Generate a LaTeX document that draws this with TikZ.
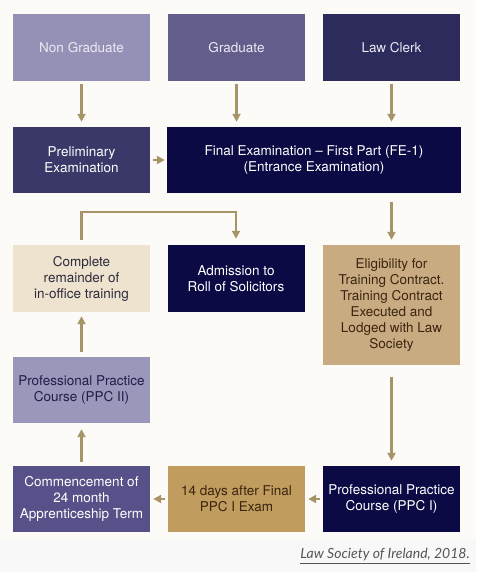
\documentclass[tikz,border=0pt]{standalone}
\usepackage{fontspec}
\setmainfont{TeX Gyre Heros}
\newfontfamily\capfont{Lato}
\usetikzlibrary{arrows.meta}
\definecolor{bgtop}{HTML}{FCFBF7}
\definecolor{bgbot}{HTML}{F8F8F8}
\definecolor{cNon}{HTML}{9590B5}
\definecolor{cGrad}{HTML}{635D8B}
\definecolor{cClerk}{HTML}{2D2A5C}
\definecolor{cPrelim}{HTML}{3A3868}
\definecolor{cNavy}{HTML}{0C0A45}
\definecolor{cCream}{HTML}{EDE3CF}
\definecolor{cTan}{HTML}{C9AB82}
\definecolor{cPPCII}{HTML}{9B97BB}
\definecolor{cComm}{HTML}{565188}
\definecolor{cGold}{HTML}{C09C5E}
\definecolor{cArrow}{HTML}{A89469}
\definecolor{tLight}{HTML}{ECEAF3}
\definecolor{tDark}{HTML}{2D2B3C}
\definecolor{tBrown}{HTML}{3B2410}
\definecolor{tNavy}{HTML}{1F1D4A}
\definecolor{tCap}{HTML}{555555}
\begin{document}
\begin{tikzpicture}[x=1pt,y=-1pt,
  box/.style={inner sep=0pt, align=center, font=\fontsize{13.5}{16}\selectfont,
    minimum width=137pt, minimum height=66pt, text=white},
  conn/.style={draw=cArrow, line width=2.4pt,
    -{Triangle[length=8pt,width=8pt]}}]
\useasboundingbox (0,0) rectangle (476,572);
\fill[bgtop] (0,0) rectangle (476,540);
\fill[bgbot] (0,540) rectangle (476,572);

\node[box, fill=cNon, text=tLight, minimum height=67pt] (non) at (81.5,47.5) {Non Graduate};
\node[box, fill=cGrad, text=tLight, minimum height=67pt] (grad) at (236.5,47.5) {Graduate};
\node[box, fill=cClerk, text=tLight, minimum height=67pt] (clerk) at (391.5,47.5) {Law Clerk};

\node[box, fill=cPrelim] (prelim) at (81.5,160) {Preliminary\\Examination};
\node[box, fill=cNavy, minimum width=294pt] (fe1) at (314,160) {Final Examination -- First Part (FE-1)\\(Entrance Examination)};

\node[box, fill=cCream, text=tDark, minimum height=67pt] (complete) at (81.5,278.5) {Complete\\remainder of\\in-office training};
\node[box, fill=cNavy, minimum height=67pt] (admission) at (236,278.5) {Admission to\\Roll of Solicitors};
\node[box, fill=cTan, text=tBrown, minimum height=120pt] (elig) at (391.5,305) {Eligibility for\\Training Contract.\\Training Contract\\Executed and\\Lodged with Law\\Society};

\node[box, fill=cPPCII, text=tNavy] (ppc2) at (81.5,390) {Professional Practice\\Course (PPC II)};

\node[box, fill=cComm] (comm) at (81.5,499) {Commencement of\\24 month\\Apprenticeship Term};
\node[box, fill=cGold, text=tBrown] (days) at (236.5,499) {14 days after Final\\PPC I Exam};
\node[box, fill=cNavy] (ppc1) at (391.5,499) {Professional Practice\\Course (PPC I)};

\node[font=\capfont\itshape\fontsize{14}{16}\selectfont, text=tCap, anchor=east, inner sep=0pt] (cap) at (470,556) {\underline{Law Society of Ireland, 2018.}};

\draw[conn, shorten <=3pt, shorten >=5pt] (non) -- (prelim);
\draw[conn, shorten <=3pt, shorten >=5pt] (grad.south) -- (grad.south |- fe1.north);
\draw[conn, shorten <=3pt, shorten >=5pt] (clerk.south) -- (clerk.south |- fe1.north);
\draw[conn, shorten <=3pt, shorten >=2pt] (prelim) -- (fe1);
\draw[conn, shorten <=9pt, shorten >=5pt] (elig.north |- fe1.south) -- (elig.north);
\coordinate (bl) at (81.5,212);
\coordinate (br) at (236,212);
\draw[conn, shorten <=5pt, shorten >=6pt] (complete.north) -- (bl) -- (br) -- (admission.north);
\draw[conn, shorten <=12pt, shorten >=5pt] (elig) -- (ppc1);
\draw[conn, shorten <=5pt, shorten >=4pt] (ppc2) -- (complete);
\draw[conn, shorten <=4pt, shorten >=6pt] (comm) -- (ppc2);
\draw[conn, shorten <=3pt, shorten >=3pt] (ppc1) -- (days);
\draw[conn, shorten <=3pt, shorten >=3pt] (days) -- (comm);
\end{tikzpicture}
\end{document}
